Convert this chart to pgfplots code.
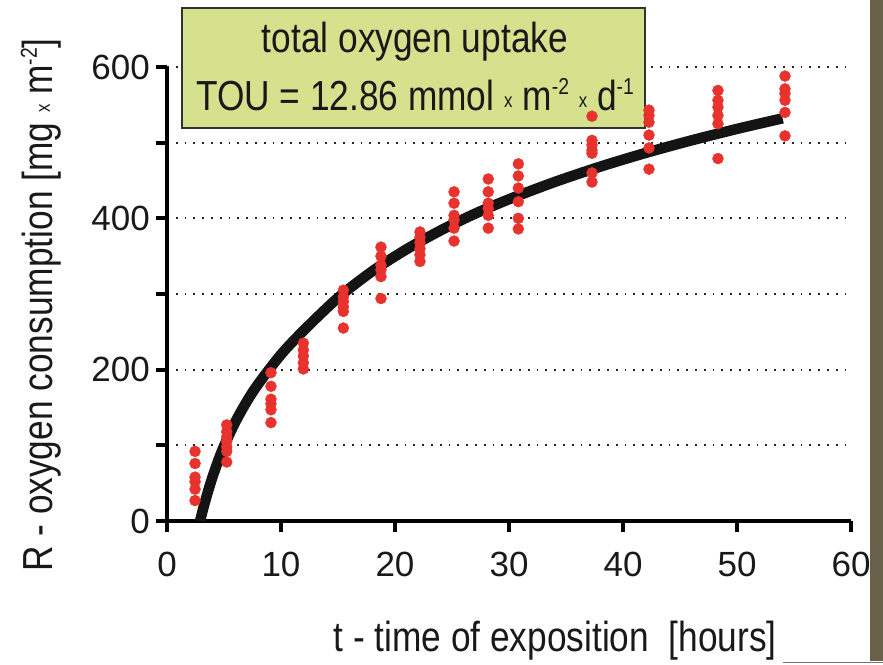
\documentclass[border=0pt]{standalone}
\usepackage{fontspec}
\setmainfont{Liberation Sans}
\newfontfamily\narrowfont[FakeStretch=0.84]{Liberation Sans}
\usepackage{pgfplots}
\pgfplotsset{compat=1.18}

\definecolor{boxfill}{RGB}{213,225,140}
\definecolor{dotred}{RGB}{232,50,45}
\definecolor{barcol}{RGB}{104,96,72}

\newcommand{\smallx}{\raisebox{0.05em}{\fontsize{20}{20}\selectfont x}}
\newcommand{\sups}[1]{\raisebox{0.36em}{\fontsize{23}{23}\selectfont #1}}

\begin{document}
\begin{tikzpicture}
\useasboundingbox (0pt,0pt) rectangle (883pt,664pt);
\begin{axis}[
  at={(167pt,143pt)}, anchor=south west,
  scale only axis, width=684pt, height=454pt,
  xmin=0, xmax=60, ymin=0, ymax=600,
  clip=false,
  axis lines=left,
  axis line style={-, line width=4.5pt, black},
  xtick={0,10,...,60},
  ytick={0,100,...,600},
  yticklabels={0,,200,,400,,600},
  tick align=outside,
  major tick length=11pt,
  tick style={line width=4pt, black},
  ymajorgrids,
  grid style={line width=1.8pt, dash pattern=on 1.8pt off 7pt, black!85},
  /pgf/number format/assume math mode=true,
  ticklabel style={font=\fontsize{35}{40}\selectfont, text=black!90, inner sep=0pt},
  xticklabel style={anchor=north, yshift=-20pt},
  yticklabel style={anchor=east, xshift=-6pt},
  xlabel={t - time of exposition\ \ [hours]},
  ylabel={R - oxygen consumption [mg \smallx\ m\sups{-2}]},
  every axis x label/.style={at={(axis description cs:0.5673,-0.2885)}, anchor=base},
  every axis y label/.style={at={(axis description cs:-0.1681,0.4758)}, rotate=90, anchor=base},
  label style={font=\narrowfont\fontsize{42}{48}\selectfont, text=black!90},
]
% legend box, under the dots
\draw[fill=boxfill, draw=black!80, line width=2pt]
  (axis cs:1.316,519.4) rectangle (axis cs:41.93,678);
\node[anchor=base, font=\narrowfont\fontsize{42}{48}\selectfont, text=black!90]
  at (axis cs:21.75,619.8) {total oxygen uptake};
\node[anchor=base, font=\narrowfont\fontsize{42}{48}\selectfont, text=black!90]
  at (axis cs:21.75,543.1) {TOU = 12.86 mmol \smallx\ m\sups{-2} \smallx\ d\sups{-1}};

% fitted curve
\addplot[smooth, line width=10.5pt, color=black!92, line cap=butt] coordinates {
  (2.9,0) (3.2,17.9) (3.6,39.3) (4.0,58.5) (4.5,80.0) (5,99.1) (6,131)
  (7,158) (8,181) (10,220) (12,252) (15,295) (18,330) (21,359)
  (24,384) (27,406) (30,425.2) (34,448.0) (38,468.3) (42,486.5)
  (46,503.0) (50,518.2) (54,532.2)
};

% measurements
\addplot[only marks, mark=*, mark size=5.5pt, color=dotred,
  mark options={draw=dotred, fill=dotred}] coordinates {
  (2.46,92) (2.46,76) (2.46,58) (2.46,52) (2.46,42) (2.46,27)
  (5.24,127) (5.24,118) (5.24,111) (5.24,105) (5.24,98) (5.24,92) (5.24,78)
  (9.12,196) (9.12,178) (9.12,161) (9.12,155) (9.12,147) (9.12,130)
  (11.96,235) (11.96,226) (11.96,218) (11.96,209) (11.96,201)
  (15.47,305) (15.47,296) (15.47,290) (15.47,283) (15.47,277) (15.47,255)
  (18.77,362) (18.77,350) (18.77,338) (18.77,332) (18.77,323) (18.77,294)
  (22.19,382) (22.19,375) (22.19,368) (22.19,360) (22.19,352) (22.19,343)
  (25.18,435) (25.18,420) (25.18,404) (25.18,398) (25.18,387) (25.18,370)
  (28.18,452) (28.18,435) (28.18,420) (28.18,413) (28.18,404) (28.18,387)
  (30.82,472) (30.82,456) (30.82,440) (30.82,422) (30.82,400) (30.82,386)
  (37.28,535) (37.28,503) (37.28,497) (37.28,490) (37.28,486) (37.28,460) (37.28,448)
  (42.28,543) (42.28,536) (42.28,527) (42.28,510) (42.28,493) (42.28,465)
  (48.33,569) (48.33,556) (48.33,547) (48.33,536) (48.33,525) (48.33,479)
  (54.21,588) (54.21,571) (54.21,565) (54.21,556) (54.21,540) (54.21,509)
};
\end{axis}
% slide edge at the right
\fill[barcol] (870pt,3pt) rectangle (883pt,664pt);
\draw[black!55, line width=1pt] (783pt,2pt) -- (883pt,2pt);
\end{tikzpicture}
\end{document}
